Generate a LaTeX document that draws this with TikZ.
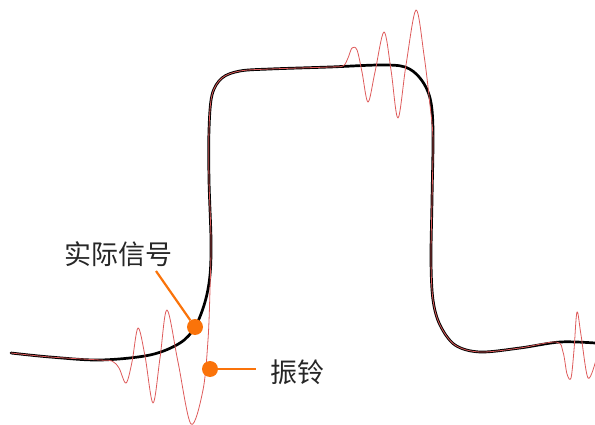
\documentclass[tikz,border=0pt]{standalone}
\usepackage{fontspec}
\newfontfamily\cjk{Noto Sans CJK SC}
\definecolor{sigred}{RGB}{222,90,90}
\definecolor{mkorange}{RGB}{250,115,10}
\begin{document}
\begin{tikzpicture}[x=1pt,y=-1pt,
  blackline/.style={line width=2.7pt,black,line cap=round,line join=round},
  redline/.style={line width=0.8pt,sigred,line join=round},
  mkdot/.style={circle,fill=mkorange,inner sep=0pt,minimum size=16pt},
  mkline/.style={line width=2.2pt,mkorange},
  lbl/.style={font=\cjk\fontsize{27}{29}\selectfont,text=black!85,inner sep=0pt}]
\useasboundingbox (0,0) rectangle (595,425);
\draw[blackline] plot[smooth,tension=0.55] coordinates{
 (11,353) (50,357) (100,360) (150,355) (180,343) (195,327) (205,302) (210,275)
 (211,240) (209,180) (209,130) (212,95) (222,78) (240,71) (270,69) (330,67)
 (380,65) (405,67) (420,78) (430,98) (433,130) (432,200) (431,260) (433,300)
 (440,325) (455,345) (480,352) (520,348) (560,342) (595,343)};
\begin{scope}
\clip (0,0) rectangle (595,425);
\draw[redline] plot[smooth,tension=0.55] coordinates{
 (11,353) (50,357) (100,360) (112,361) (119,368) (126,383) (132,362) (138,328)
 (145,356) (153,403) (160,358) (167,310) (178,362) (191,424) (203,390) (208,340)
 (210,290) (211,240) (209,180) (209,130) (212,95) (222,78) (240,71) (270,69)
 (330,67) (343,66) (348,58) (352,48) (357,50) (362,72) (368,102) (375,72)
 (384,32) (391,70) (398,118) (406,65) (416,10) (424,55) (430,105) (433,140)
 (432,200) (431,260) (433,300) (440,325) (455,345) (480,352) (520,348)
 (556,342) (563,352) (567,374) (571,378) (574,350) (577,312) (581,335)
 (588,378) (596,360)};
\end{scope}
\node[lbl] (l1) at (118,254) {实际信号};
\node[lbl] (l2) at (297,372) {振铃};
\node[mkdot] (d1) at (195,327) {};
\node[mkdot] (d2) at (210,369) {};
\coordinate (c1) at (156,271);
\coordinate (c2) at (256,369);
\draw[mkline] (c1) -- (d1);
\draw[mkline] (d2) -- (c2);
\end{tikzpicture}
\end{document}
